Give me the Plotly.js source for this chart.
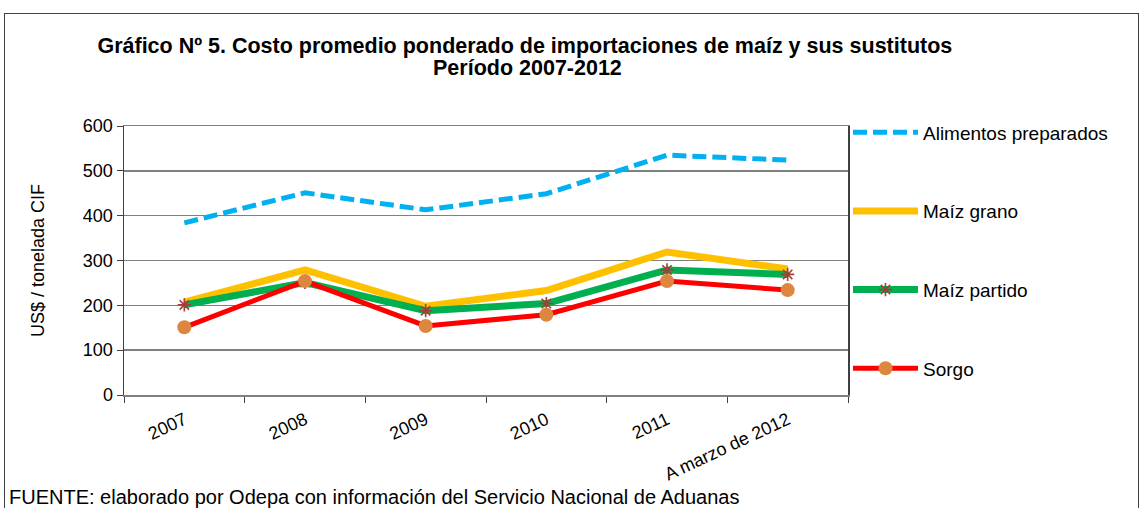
<!DOCTYPE html>
<html><head><meta charset="utf-8">
<script src="https://cdn.plot.ly/plotly-3.0.1.min.js"></script>
<style>
html,body{margin:0;padding:0;background:#fff;}
#chart{width:1141px;height:508px;}
#frame{position:absolute;left:4px;top:13px;width:1133px;height:600px;border:1px solid #404040;pointer-events:none;}
</style></head>
<body>
<div id="chart"></div>
<div id="frame"></div>
<script>
var categories = ["2007","2008","2009","2010","2011","A marzo de 2012"];
var alimentos = [384, 451, 413, 449, 535, 524];
var maizGrano = [207, 279, 198, 233, 319, 281];
var maizPartido = [201, 251, 188, 204, 279, 269];
var sorgo = [151, 254, 154, 179, 254, 234];
var yTicks = [0,100,200,300,400,500,600];

var F = "Liberation Sans, Arial, sans-serif";
var traces = [
  {x:categories, y:alimentos, name:"Alimentos preparados", mode:"lines", legendgroup:"a",
   line:{color:"#00b0f0", width:5, dash:"14px,6px"}},
  {x:categories, y:maizGrano, name:"Maíz grano", mode:"lines", legendgroup:"b",
   line:{color:"#ffc000", width:7}},
  {x:categories, y:maizPartido, name:"Maíz partido", mode:"lines+markers", legendgroup:"c",
   line:{color:"#00b050", width:7},
   marker:{symbol:"asterisk-open", size:11, color:"#a04038", line:{color:"#a04038", width:1.6}}},
  {x:categories, y:sorgo, name:"Sorgo", mode:"lines+markers", legendgroup:"d",
   line:{color:"#ff0000", width:5},
   marker:{symbol:"circle", size:14, color:"#dd8640", line:{width:0}}}
];
var layout = {
  width:1141, height:508,
  margin:{l:124, r:293, t:126, b:113},
  paper_bgcolor:"#fff", plot_bgcolor:"#fff",
  font:{family:F, size:18, color:"#000"},
  showlegend:true,
  title:{text:"<b>Gráfico Nº 5. Costo promedio ponderado de importaciones de maíz y sus sustitutos</b>",
    x:0.46, xanchor:"center", xref:"container", y:(508-45)/508, yanchor:"middle", yref:"container",
    font:{family:F, size:21.5, color:"#000"}},
  xaxis:{type:"category", range:[-0.5,5.5], showgrid:false, showline:true, linecolor:"#808080", linewidth:1.5, mirror:true,
    ticks:"outside", tickson:"boundaries", ticklen:6, tickcolor:"#404040",
    tickangle:-25, tickfont:{family:F, size:18}, ticklabelstandoff:6, zeroline:false},
  yaxis:{range:[0,600], tickvals:yTicks, showgrid:true, gridcolor:"#808080", gridwidth:1.5,
    showline:true, linecolor:"#404040", linewidth:1.5, mirror:true,
    ticks:"outside", ticklen:6, tickcolor:"#404040", zeroline:false,
    tickfont:{family:F, size:18},
    title:{text:"US$ / tonelada CIF", font:{family:F, size:18}, standoff:33}},
  legend:{x:1.0, xanchor:"left", y:1.047, yanchor:"top", tracegroupgap:51, itemwidth:65,
    maxheight:500, font:{family:F, size:19}, bgcolor:"rgba(0,0,0,0)"},
  annotations:[
   {text:"<b>Período 2007-2012</b>", xref:"paper", yref:"paper",
    x:(527-124)/724, y:(395-68)/269, xanchor:"center", yanchor:"middle", showarrow:false,
    font:{family:F, size:21.5}},
   {text:"FUENTE: elaborado por Odepa con información del Servicio Nacional de Aduanas",
    xref:"paper", yref:"paper", x:-0.1616, y:-0.379, xanchor:"left", yanchor:"middle", showarrow:false,
    font:{family:F, size:20}}]
};
Plotly.newPlot("chart", traces, layout, {displayModeBar:false, staticPlot:true});
</script>
</body></html>
